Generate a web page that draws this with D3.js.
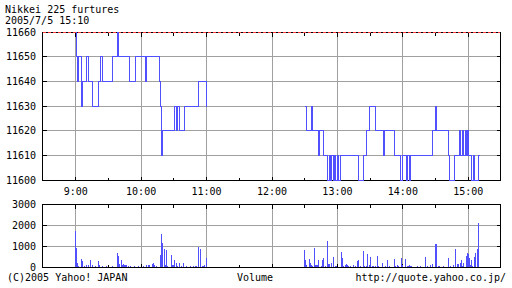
<!DOCTYPE html>
<html>
<head>
<meta charset="utf-8">
<script src="https://cdn.jsdelivr.net/npm/d3@7"></script>
<style>
  body { margin: 0; background: #fff; }
  svg { display: block; font-family: "DejaVu Sans Mono", monospace; font-size: 10px; }
</style>
</head>
<body>
<div class="chart"></div>
<script>
// price steps, morning session
const amTimes = ["9:00","9:01","9:02","9:03","9:05","9:06","9:10","9:12","9:15","9:21","9:23","9:25","9:34","9:38","9:39","9:49","9:55","10:04","10:05","10:17","10:18","10:19","10:20","10:31","10:32","10:33","10:35","10:40","10:53","11:00"];
const amPrices = [11660,11650,11640,11650,11630,11640,11650,11640,11630,11640,11650,11640,11650,11660,11650,11640,11650,11640,11650,11640,11630,11610,11620,11630,11620,11630,11620,11630,11640,11630];

// price steps, afternoon session
const pmTimes = ["12:30","12:32","12:36","12:37","12:43","12:44","12:47","12:51","12:53","12:54","12:55","12:56","12:57","12:58","13:00","13:01","13:03","13:19","13:24","13:27","13:29","13:35","13:42","13:43","13:52","13:58","14:00","14:03","14:04","14:06","14:07","14:27","14:30","14:31","14:42","14:43","14:47","14:52","14:53","14:55","14:56","14:57","14:58","14:59","15:00","15:03","15:05","15:06","15:09","15:10"];
const pmPrices = [11630,11620,11630,11620,11610,11620,11610,11600,11610,11600,11610,11600,11610,11600,11610,11600,11610,11600,11610,11620,11630,11620,11610,11620,11610,11600,11610,11600,11610,11600,11610,11620,11630,11620,11610,11600,11610,11620,11610,11620,11610,11620,11610,11620,11610,11600,11610,11600,11610,11610];

// volume per minute
const volTimes = ["9:00","9:01","9:02","9:03","9:05","9:06","9:08","9:10","9:12","9:14","9:15","9:18","9:21","9:22","9:25","9:28","9:32","9:34","9:36","9:38","9:39","9:40","9:42","9:43","9:44","9:45","9:46","9:47","9:48","9:50","9:52","9:54","9:56","9:58","10:02","10:05","10:07","10:08","10:10","10:11","10:12","10:14","10:18","10:19","10:20","10:21","10:22","10:23","10:24","10:28","10:29","10:30","10:31","10:32","10:33","10:35","10:37","10:39","10:42","10:45","10:48","10:50","10:51","10:53","10:54","10:56","10:57","10:58","11:00",
  "12:30","12:31","12:32","12:34","12:35","12:36","12:37","12:39","12:40","12:41","12:42","12:43","12:45","12:46","12:47","12:49","12:51","12:52","12:53","12:55","12:56","12:58","12:59","13:04","13:05","13:06","13:07","13:08","13:09","13:10","13:12","13:15","13:17","13:18","13:19","13:21","13:24","13:25","13:27","13:28","13:29","13:30","13:32","13:33","13:35","13:37","13:38","13:41","13:44","13:46","13:48","13:52","13:53","13:55","13:56","13:59","14:00","14:02","14:04","14:05","14:06","14:07","14:08","14:13","14:16","14:21","14:23","14:25","14:27","14:30","14:31","14:33","14:34","14:37","14:42","14:44","14:46","14:48","14:50","14:51","14:53","14:54","14:55","14:56","14:58","14:59","15:00","15:01","15:02","15:03","15:04","15:06","15:07","15:08","15:09"];
const volValues = [1700,920,200,60,400,270,50,100,110,350,80,60,300,80,50,30,20,30,20,680,540,130,350,100,130,110,110,110,50,30,20,30,20,30,30,80,110,80,130,200,80,50,590,1590,1160,870,100,830,50,590,110,80,350,170,60,200,40,200,40,40,30,60,40,970,870,50,70,80,440,
  790,330,80,365,200,80,60,920,80,100,80,320,60,320,440,50,1220,160,130,190,490,50,50,700,440,60,100,130,100,60,50,80,50,290,320,50,750,50,50,600,100,460,60,60,50,540,50,200,40,320,40,400,60,80,50,410,80,360,60,60,100,40,40,40,30,490,50,100,160,1110,1080,40,50,30,440,50,80,870,160,130,190,330,60,190,520,670,630,430,80,350,60,480,680,870,2110];

const priceTicks = [11600, 11610, 11620, 11630, 11640, 11650, 11660];
const volTicks = [0, 1000, 2000, 3000];
const hourLabels = ["9:00","10:00","11:00","12:00","13:00","14:00","15:00"];

const w = 512, h = 288;
const left = 42, right = 500;
const gridColor = "#a0a0a0";
const lineColor = "#5050ff";

const parseT = d3.timeParse("%H:%M");
const px = v => Math.floor(v) + 0.5;

const x = d3.scaleTime()
  .domain([parseT("8:30"), parseT("15:30")])
  .range([43, 501]);

const y = d3.scaleLinear().domain([11600, 11660]).range([180, 32]);
const yv = d3.scaleLinear().domain([0, 3000]).range([267, 204]);

const svg = d3.select(".chart").append("svg")
  .attr("width", w)
  .attr("height", h)
  .attr("shape-rendering", "crispEdges");

const hours = hourLabels.map(parseT);
const halfHours = x.ticks(d3.timeMinute.every(30))
  .filter(t => t > x.domain()[0] && t < x.domain()[1]);

// panel frame, grid and ticks
const panel = (yScale, ticks, top, bottom) => {
  const g = svg.append("g");
  g.selectAll(".hg").data(ticks.slice(1, -1)).enter().append("line")
    .attr("x1", left).attr("x2", right)
    .attr("y1", d => px(yScale(d))).attr("y2", d => px(yScale(d)))
    .attr("stroke", gridColor);
  g.selectAll(".vg").data(hours).enter().append("line")
    .attr("x1", d => px(x(d))).attr("x2", d => px(x(d)))
    .attr("y1", top).attr("y2", bottom)
    .attr("stroke", gridColor);
  // inward ticks
  halfHours.forEach(t => {
    const len = t.getMinutes() === 0 ? 4 : 3;
    g.append("line").attr("x1", px(x(t))).attr("x2", px(x(t)))
      .attr("y1", px(top)).attr("y2", px(top) + len).attr("stroke", "#000");
    g.append("line").attr("x1", px(x(t))).attr("x2", px(x(t)))
      .attr("y1", px(bottom)).attr("y2", px(bottom) - len).attr("stroke", "#000");
  });
  ticks.slice(1, -1).forEach(v => {
    g.append("line").attr("x1", left + 0.5).attr("x2", left + 4.5)
      .attr("y1", px(yScale(v))).attr("y2", px(yScale(v))).attr("stroke", "#000");
    g.append("line").attr("x1", right + 0.5).attr("x2", right - 3.5)
      .attr("y1", px(yScale(v))).attr("y2", px(yScale(v))).attr("stroke", "#000");
  });
  g.append("rect")
    .attr("x", left + 0.5).attr("y", px(top))
    .attr("width", right - left).attr("height", px(bottom) - px(top))
    .attr("fill", "none").attr("stroke", "#000");
  // value labels
  g.selectAll(".yl").data(ticks).enter().append("text")
    .attr("x", 36)
    .attr("y", d => yScale(d) + 3.5)
    .attr("text-anchor", "end")
    .text(d => d);
  return g;
};

panel(y, priceTicks, y(11660), y(11600));
panel(yv, volTicks, yv(3000), yv(0));

// red dashed line on the top edge
svg.append("line")
  .attr("x1", left + 1).attr("x2", right)
  .attr("y1", px(y(11660))).attr("y2", px(y(11660)))
  .attr("stroke", "#ff4040")
  .attr("stroke-dasharray", "3,2");

// price step lines
const line = d3.line()
  .x(d => px(x(d[0])))
  .y(d => px(y(d[1])))
  .curve(d3.curveStepAfter);

[[amTimes, amPrices], [pmTimes, pmPrices]].forEach(([ts, ps]) => {
  svg.append("path")
    .datum(ts.map((t, i) => [parseT(t), ps[i]]))
    .attr("d", line)
    .attr("fill", "none")
    .attr("stroke", lineColor)
    .attr("stroke-width", 1);
});

// volume bars
svg.selectAll(".bar")
  .data(volTimes.map((t, i) => [parseT(t), volValues[i]]))
  .enter().append("rect")
  .attr("class", "bar")
  .attr("x", d => Math.floor(x(d[0])))
  .attr("y", d => Math.round(yv(d[1])))
  .attr("width", 1)
  .attr("height", d => yv(0) - Math.round(yv(d[1])))
  .attr("fill", lineColor);

// hour labels
svg.selectAll(".xl").data(hours).enter().append("text")
  .attr("x", d => x(d))
  .attr("y", 195)
  .attr("text-anchor", "middle")
  .text((d, i) => hourLabels[i]);

// titles and footer
svg.append("text").attr("x", 5).attr("y", 13).text("Nikkei 225 furtures");
svg.append("text").attr("x", 5).attr("y", 23.5).text("2005/7/5 15:10");
svg.append("text").attr("x", 7).attr("y", 281).text("(C)2005 Yahoo! JAPAN");
svg.append("text").attr("x", 237).attr("y", 281).text("Volume");
svg.append("text").attr("x", 506).attr("y", 281).attr("text-anchor", "end").text("http://quote.yahoo.co.jp/");
</script>
</body>
</html>
